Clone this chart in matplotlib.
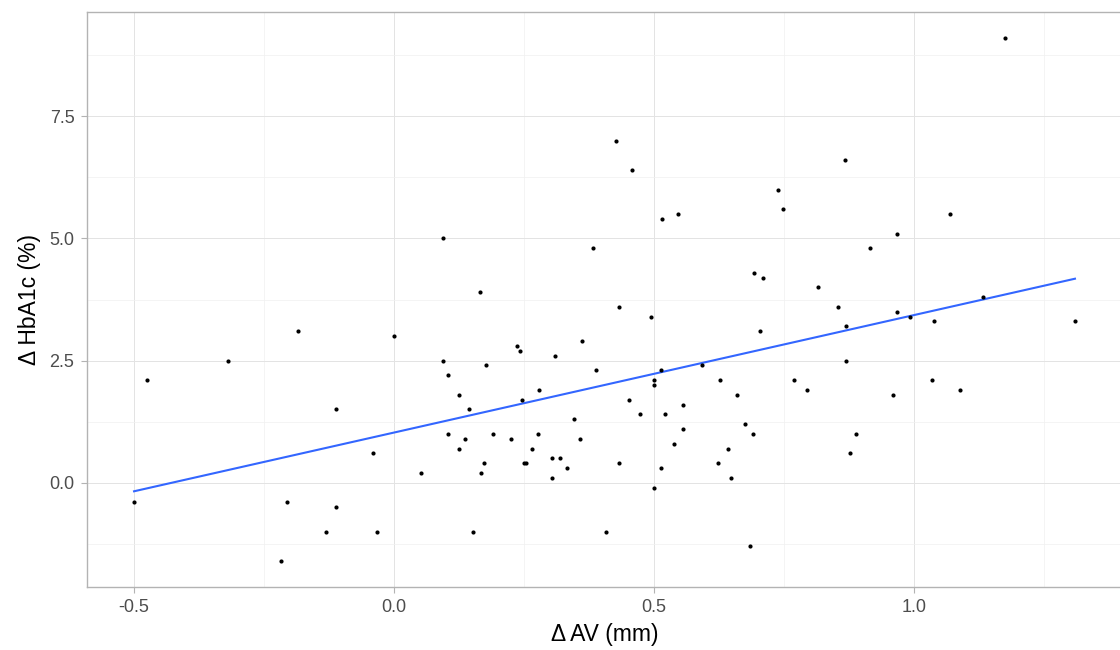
import numpy as np
import matplotlib.pyplot as plt
from matplotlib.ticker import MultipleLocator

# Cambio en AV (mm) y cambio en HbA1c (%) por paciente
delta_av = [
    -0.500, -0.475, -0.320, -0.185, -0.217, -0.206, -0.130, -0.112, -0.112, -0.040,
    -0.033, 0.000, 0.052, 0.094, 0.094, 0.104, 0.104, 0.125, 0.125, 0.137,
    0.144, 0.152, 0.165, 0.167, 0.173, 0.177, 0.190, 0.225, 0.237, 0.242,
    0.246, 0.250, 0.254, 0.265, 0.277, 0.279, 0.304, 0.304, 0.310, 0.319,
    0.333, 0.346, 0.358, 0.362, 0.383, 0.388, 0.408, 0.427, 0.433, 0.433,
    0.452, 0.458, 0.473, 0.494, 0.500, 0.500, 0.500, 0.513, 0.513, 0.515,
    0.521, 0.538, 0.546, 0.556, 0.556, 0.592, 0.623, 0.627, 0.642, 0.648,
    0.660, 0.675, 0.685, 0.690, 0.692, 0.704, 0.710, 0.738, 0.748, 0.769,
    0.794, 0.815, 0.854, 0.867, 0.869, 0.869, 0.877, 0.888, 0.915, 0.960,
    0.967, 0.967, 0.992, 1.035, 1.038, 1.069, 1.088, 1.133, 1.175, 1.310,
]
delta_hba1c = [
    -0.4, 2.1, 2.5, 3.1, -1.6, -0.4, -1.0, -0.5, 1.5, 0.6,
    -1.0, 3.0, 0.2, 5.0, 2.5, 2.2, 1.0, 1.8, 0.7, 0.9,
    1.5, -1.0, 3.9, 0.2, 0.4, 2.4, 1.0, 0.9, 2.8, 2.7,
    1.7, 0.4, 0.4, 0.7, 1.0, 1.9, 0.1, 0.5, 2.6, 0.5,
    0.3, 1.3, 0.9, 2.9, 4.8, 2.3, -1.0, 7.0, 3.6, 0.4,
    1.7, 6.4, 1.4, 3.4, 2.1, 2.0, -0.1, 2.3, 0.3, 5.4,
    1.4, 0.8, 5.5, 1.1, 1.6, 2.4, 0.4, 2.1, 0.7, 0.1,
    1.8, 1.2, -1.3, 1.0, 4.3, 3.1, 4.2, 6.0, 5.6, 2.1,
    1.9, 4.0, 3.6, 6.6, 3.2, 2.5, 0.6, 1.0, 4.8, 1.8,
    5.1, 3.5, 3.4, 2.1, 3.3, 5.5, 1.9, 3.8, 9.1, 3.3,
]

x = np.array(delta_av)
y = np.array(delta_hba1c)

plt.rcParams['font.family'] = ['Liberation Sans', 'DejaVu Sans']

fig = plt.figure(figsize=(11.2, 6.5), dpi=100)
ax = fig.add_axes([87 / 1120, 63 / 650, 1035 / 1120, 575 / 650])

# Recta de regresión lineal (mínimos cuadrados)
pendiente, intercepto = np.polyfit(x, y, 1)
xs = np.array([x.min(), x.max()])
ax.plot(xs, intercepto + pendiente * xs, color='#3366FF', linewidth=1.5, zorder=3)

ax.scatter(x, y, s=9, color='black', linewidths=0, zorder=4)

# Límites con expansión del 5 %
rx = x.max() - x.min()
ry = y.max() - y.min()
ax.set_xlim(x.min() - 0.05 * rx, x.max() + 0.05 * rx)
ax.set_ylim(y.min() - 0.05 * ry, y.max() + 0.05 * ry)

ax.xaxis.set_major_locator(MultipleLocator(0.5))
ax.xaxis.set_minor_locator(MultipleLocator(0.25))
ax.yaxis.set_major_locator(MultipleLocator(2.5))
ax.yaxis.set_minor_locator(MultipleLocator(1.25))
ax.xaxis.set_major_formatter(lambda v, p: f'{v:.1f}')
ax.yaxis.set_major_formatter(lambda v, p: f'{v:.1f}')

ax.grid(True, which='major', color='#E3E3E3', linewidth=0.7)
ax.grid(True, which='minor', color='#F0F0F0', linewidth=0.5)
ax.set_axisbelow(True)

for s in ax.spines.values():
    s.set_color('#B3B3B3')
    s.set_linewidth(1.0)

ax.tick_params(which='major', length=4, width=0.8, color='#B3B3B3',
               labelsize=13, labelcolor='#4D4D4D', pad=5)
ax.tick_params(which='minor', length=0)

ax.set_xlabel('Δ AV (mm)', fontsize=16.5, labelpad=5)
ax.set_ylabel('Δ HbA1c (%)', fontsize=16.5, labelpad=6)

fig.savefig('out.png', dpi=100)
